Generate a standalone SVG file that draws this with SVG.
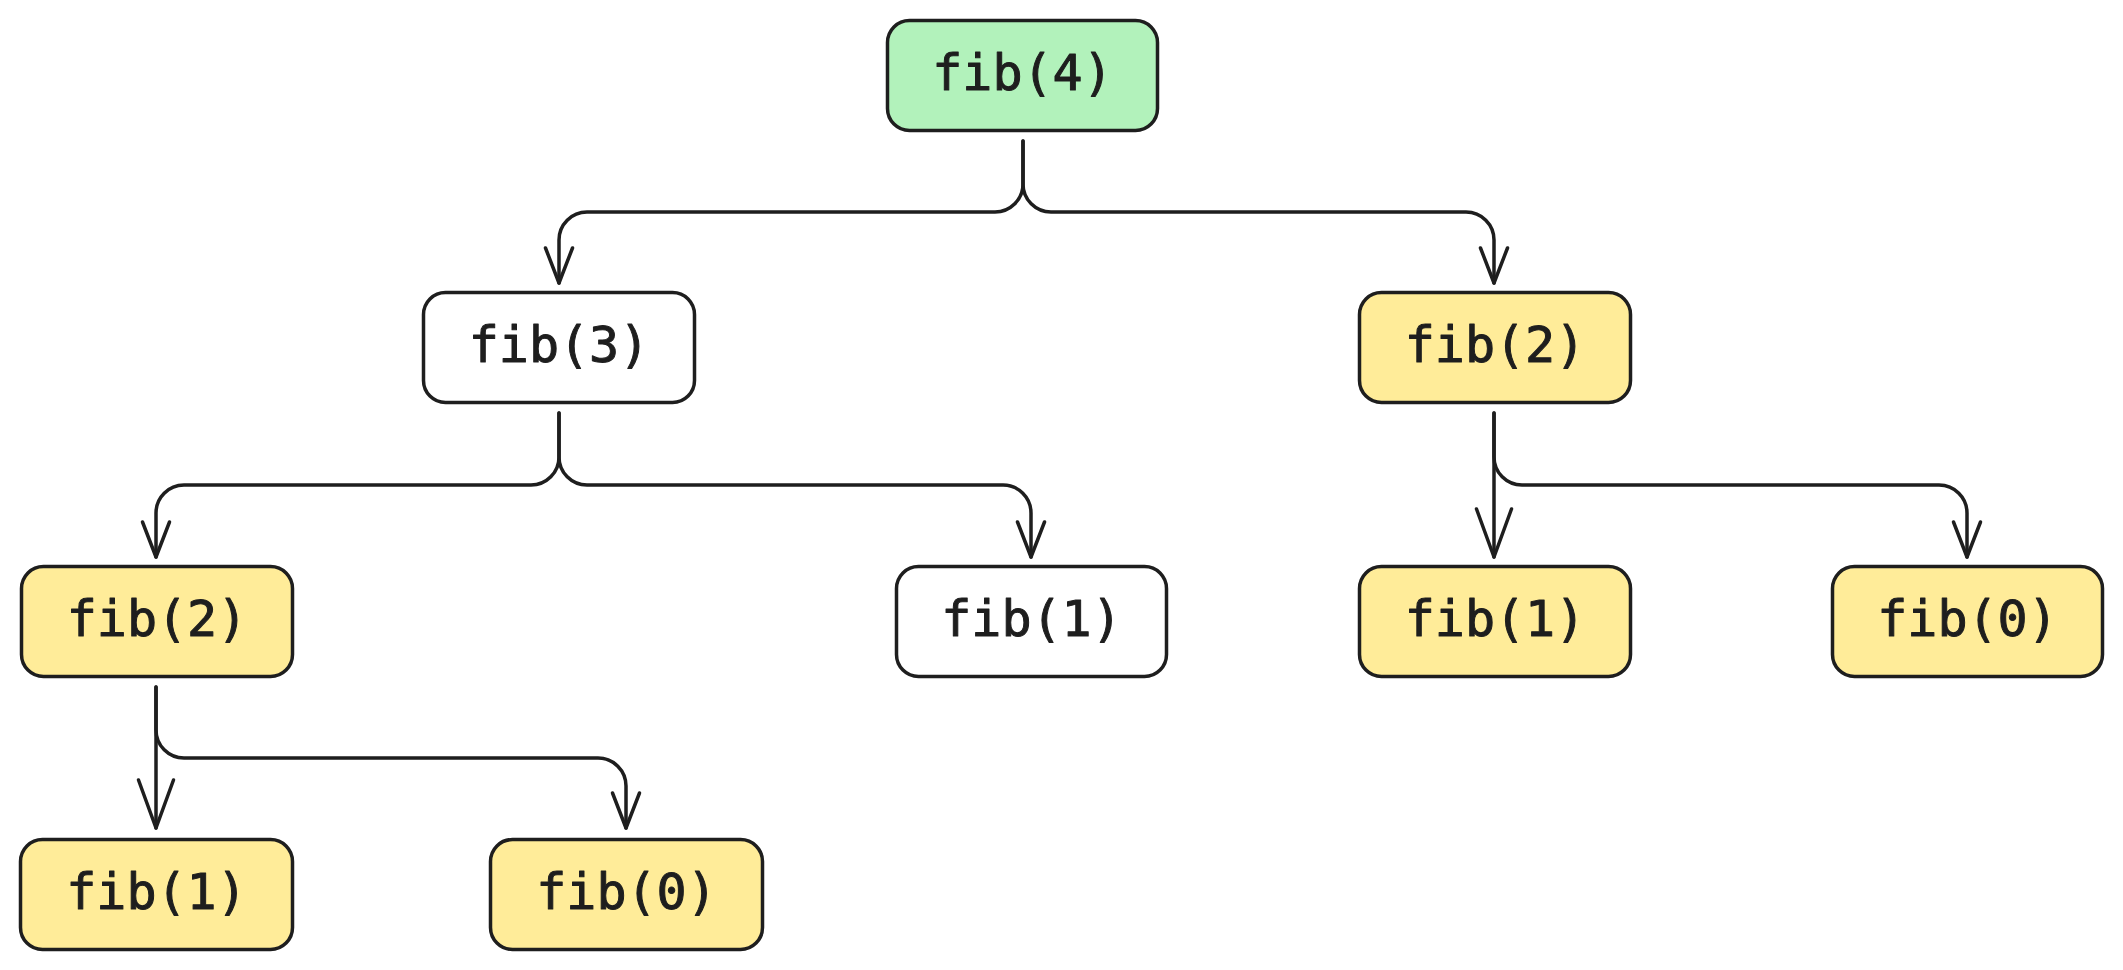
<svg xmlns="http://www.w3.org/2000/svg" width="2123" height="970" viewBox="0 0 2123 970">
  <style>
    .box { stroke: #1e1e1e; stroke-width: 3.5; }
    .white { fill: #ffffff; }
    .green { fill: #b2f2bb; }
    .yellow { fill: #ffec99; }
    .lbl { font-family: "DejaVu Sans Mono", "Liberation Mono", monospace; font-size: 50px; fill: #1e1e1e; stroke: #1e1e1e; stroke-width: 1; stroke-linejoin: round; text-anchor: middle; }
    .edge { fill: none; stroke: #1e1e1e; stroke-width: 3.5; stroke-linecap: round; stroke-linejoin: round; }
  </style>
  <defs>
    <marker id="arrS" markerUnits="userSpaceOnUse" markerWidth="40" markerHeight="40" refX="0" refY="0" orient="auto" overflow="visible">
      <path d="M-35,-13.5 L0,0 L-35,13.5" fill="none" stroke="#1e1e1e" stroke-width="3.5" stroke-linecap="round" stroke-linejoin="round"/>
    </marker>
    <marker id="arrL" markerUnits="userSpaceOnUse" markerWidth="50" markerHeight="50" refX="0" refY="0" orient="auto" overflow="visible">
      <path d="M-48,-17.5 L0,0 L-48,17.5" fill="none" stroke="#1e1e1e" stroke-width="3.5" stroke-linecap="round" stroke-linejoin="round"/>
    </marker>
  </defs>
  <rect width="2123" height="970" fill="#ffffff"/>

  <g id="connectors">
    <path class="edge" marker-end="url(#arrS)" d="M1023,141 V184 A28,28 0 0 1 995,212 H587 A28,28 0 0 0 559,240 V283"/>
    <path class="edge" marker-end="url(#arrS)" d="M1023,141 V184 A28,28 0 0 0 1051,212 H1466 A28,28 0 0 1 1494,240 V283"/>
    <path class="edge" marker-end="url(#arrS)" d="M559,413 V457 A28,28 0 0 1 531,485 H184 A28,28 0 0 0 156,513 V557"/>
    <path class="edge" marker-end="url(#arrS)" d="M559,413 V457 A28,28 0 0 0 587,485 H1003 A28,28 0 0 1 1031,513 V557"/>
    <path class="edge" marker-end="url(#arrL)" d="M1494,413 V557"/>
    <path class="edge" marker-end="url(#arrS)" d="M1494,413 V457 A28,28 0 0 0 1522,485 H1939 A28,28 0 0 1 1967,513 V557"/>
    <path class="edge" marker-end="url(#arrL)" d="M156,687 V828"/>
    <path class="edge" marker-end="url(#arrS)" d="M156,687 V730 A28,28 0 0 0 184,758 H598 A28,28 0 0 1 626,786 V828"/>
  </g>

  <g id="fib4">
    <rect class="box green" x="887.5" y="20.5" width="270" height="110" rx="22"/>
    <text class="lbl" x="1022.5" y="90">fib(4)</text>
  </g>
  <g id="fib3">
    <rect class="box white" x="423.5" y="292.5" width="271" height="110" rx="22"/>
    <text class="lbl" x="559" y="362">fib(3)</text>
  </g>
  <g id="fib2-right">
    <rect class="box yellow" x="1359.5" y="292.5" width="271" height="110" rx="22"/>
    <text class="lbl" x="1495" y="362">fib(2)</text>
  </g>
  <g id="fib2-left">
    <rect class="box yellow" x="21.5" y="566.5" width="271" height="110" rx="22"/>
    <text class="lbl" x="157" y="636">fib(2)</text>
  </g>
  <g id="fib1-mid">
    <rect class="box white" x="896.5" y="566.5" width="270" height="110" rx="22"/>
    <text class="lbl" x="1031.5" y="636">fib(1)</text>
  </g>
  <g id="fib1-right">
    <rect class="box yellow" x="1359.5" y="566.5" width="271" height="110" rx="22"/>
    <text class="lbl" x="1495" y="636">fib(1)</text>
  </g>
  <g id="fib0-right">
    <rect class="box yellow" x="1832.5" y="566.5" width="270" height="110" rx="22"/>
    <text class="lbl" x="1967.5" y="636">fib(0)</text>
  </g>
  <g id="fib1-bottom">
    <rect class="box yellow" x="20.5" y="839.5" width="272" height="110" rx="22"/>
    <text class="lbl" x="156.5" y="909">fib(1)</text>
  </g>
  <g id="fib0-bottom">
    <rect class="box yellow" x="490.5" y="839.5" width="272" height="110" rx="22"/>
    <text class="lbl" x="626.5" y="909">fib(0)</text>
  </g>
</svg>
